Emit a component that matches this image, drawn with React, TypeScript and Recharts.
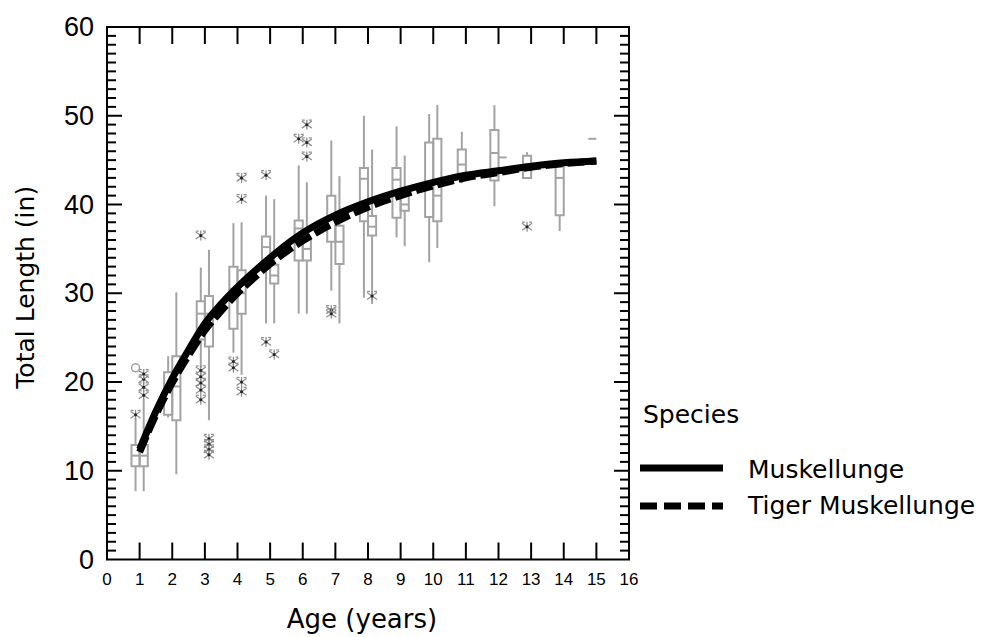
import React from 'react';
import {
  ComposedChart,
  Line,
  Scatter,
  XAxis,
  YAxis,
  ReferenceArea,
  ReferenceLine,
  Legend,
} from 'recharts';

// ---------- data ----------
const xTicks = [0, 1, 2, 3, 4, 5, 6, 7, 8, 9, 10, 11, 12, 13, 14, 15, 16];
const yTicks = Array.from({ length: 61 }, (_, i) => i);

const fitAges = [1, 1.5, 2, 2.5, 3, 3.5, 4, 4.5, 5, 5.5, 6, 7, 8, 9, 10, 11, 12, 13, 14, 15];
const muskFit = [12.4, 16.7, 20.4, 23.6, 26.6, 28.8, 30.7, 32.4, 34.0, 35.5, 36.8, 38.8, 40.3, 41.5, 42.5, 43.3, 43.8, 44.3, 44.7, 44.9];
const tigerFit = [12.1, 16.3, 19.9, 23.0, 25.8, 28.0, 30.0, 31.7, 33.3, 34.7, 35.9, 38.0, 39.7, 41.0, 42.1, 43.0, 43.6, 44.2, 44.6, 44.9];

// left-hand boxes
const muskBoxAges = [1, 2, 3, 4, 5, 6, 7, 8, 9, 10, 11, 12, 13, 14, 15];
const muskLow = [7.7, 16.0, 21.6, 23.3, 26.6, 27.7, 30.3, 29.5, 36.3, 33.5, 42.4, 39.8, 43.0, 37.0, 47.4];
const muskQ1 = [10.5, 16.3, 24.8, 26.0, 33.7, 33.7, 35.8, 38.1, 38.5, 38.6, 43.3, 42.7, 43.0, 38.8, 47.4];
const muskMed = [11.7, 19.0, 27.7, 30.5, 35.2, 37.3, 38.5, 42.9, 42.8, 42.5, 44.5, 45.8, 44.3, 43.0, 47.4];
const muskQ3 = [12.9, 21.1, 29.1, 33.0, 36.4, 38.2, 41.0, 44.1, 44.1, 47.0, 46.2, 48.4, 45.5, 44.5, 47.4];
const muskHigh = [15.9, 22.9, 32.9, 37.9, 41.0, 44.4, 47.2, 50.0, 48.8, 50.2, 48.2, 51.2, 45.9, 44.8, 47.4];

// right-hand boxes
const tigerBoxAges = [1, 2, 3, 4, 5, 6, 7, 8, 9, 10, 12];
const tigerLow = [7.7, 9.6, 15.7, 20.8, 26.6, 27.7, 26.6, 28.8, 35.3, 35.1, 45.3];
const tigerQ1 = [10.5, 15.7, 24.0, 27.7, 31.1, 33.7, 33.3, 36.5, 39.3, 38.1, 45.3];
const tigerMed = [11.7, 19.5, 27.7, 30.0, 32.0, 35.0, 35.8, 37.5, 40.0, 41.0, 45.3];
const tigerQ3 = [12.9, 22.9, 29.7, 32.6, 33.2, 36.2, 37.6, 38.7, 41.1, 47.4, 45.3];
const tigerHigh = [18.0, 30.1, 34.9, 38.0, 40.6, 42.5, 43.2, 46.2, 45.5, 51.2, 45.3];

// outliers (asterisks) and far outside value (circle)
const muskOutAges = [1, 3, 3, 3, 3, 3, 3, 4, 4, 5, 5, 6, 7, 7, 13];
const muskOutVals = [16.3, 36.5, 21.3, 20.6, 19.9, 19.1, 18.0, 22.3, 21.6, 43.3, 24.5, 47.4, 28.1, 27.7, 37.5];
const tigerOutAges = [1, 1, 1, 1, 3, 3, 3, 3, 4, 4, 4, 4, 5, 6, 6, 6, 8];
const tigerOutVals = [18.5, 19.4, 20.3, 20.9, 13.6, 13.0, 12.4, 11.8, 43.0, 40.6, 20.0, 18.9, 23.1, 49.0, 47.0, 45.4, 29.7];
const muskFarAges = [1];
const muskFarVals = [21.6];

const seriesNames = ['Muskellunge', 'Tiger Muskellunge'];

// ---------- layout constants ----------
const W = 981;
const H = 629;
const MARGIN = { top: 19, right: 360, bottom: 47.5, left: 0 };
const Y_AXIS_W = 99;
const X_AXIS_H = 30;
const PLOT_R = W - MARGIN.right;
const PLOT_T = MARGIN.top;

const HALF = 0.125; // half distance between paired boxes (x units)
const BOXW = 0.125; // half width of a box
const GRAY = '#a3a3a3';

const muskFitData = fitAges.map((x, i) => ({ x, y: muskFit[i] }));
const tigerFitData = fitAges.map((x, i) => ({ x, y: tigerFit[i] }));

type Box = { c: number; low: number; q1: number; med: number; q3: number; high: number };
const muskBoxes: Box[] = muskBoxAges.map((a, i) => ({
  c: a - HALF, low: muskLow[i], q1: muskQ1[i], med: muskMed[i], q3: muskQ3[i], high: muskHigh[i],
}));
const tigerBoxes: Box[] = tigerBoxAges.map((a, i) => ({
  c: a + HALF, low: tigerLow[i], q1: tigerQ1[i], med: tigerMed[i], q3: tigerQ3[i], high: tigerHigh[i],
}));
const allBoxes = [...muskBoxes, ...tigerBoxes];

const outData = [
  ...muskOutAges.map((a, i) => ({ x: a - HALF, y: muskOutVals[i] })),
  ...tigerOutAges.map((a, i) => ({ x: a + HALF, y: tigerOutVals[i] })),
];
const farData = muskFarAges.map((a, i) => ({ x: a - HALF, y: muskFarVals[i] }));

const FONT = 'DejaVu Sans, Liberation Sans, Arial, sans-serif';

const YTick = (props: any) => {
  const { x, y, payload } = props;
  const v = payload.value;
  const major = v % 10 === 0;
  const len = major ? 15 : 9;
  const inner = v > 0 && v < 60;
  return (
    <g>
      {inner && (
        <>
          <line x1={x} x2={x + len} y1={y} y2={y} stroke="#000" strokeWidth={2} />
          <line x1={PLOT_R} x2={PLOT_R - len} y1={y} y2={y} stroke="#000" strokeWidth={2} />
        </>
      )}
      {major && (
        <text
          x={x - 13}
          y={y}
          dy={9}
          textAnchor="end"
          fontSize={27}
          fontFamily="Liberation Sans Narrow, Liberation Sans, Arial, sans-serif"
          fill="#000"
        >
          {v}
        </text>
      )}
    </g>
  );
};

const XTick = (props: any) => {
  const { x, y, payload } = props;
  const v = payload.value;
  const inner = v > 0 && v < 16;
  return (
    <g>
      {inner && (
        <>
          <line x1={x} x2={x} y1={y} y2={y - 17} stroke="#000" strokeWidth={2} />
          <line x1={x} x2={x} y1={PLOT_T} y2={PLOT_T + 17} stroke="#000" strokeWidth={2} />
        </>
      )}
      <text x={x} y={y + 25} textAnchor="middle" fontSize={17} fontFamily="Liberation Sans, Arial, sans-serif" fill="#000">
        {v}
      </text>
    </g>
  );
};

const Star = (props: any) => {
  const { cx, cy } = props;
  if (cx == null || cy == null) return null;
  const c = '#8f8f8f';
  return (
    <g>
      <line x1={cx - 5} y1={cy - 3.5} x2={cx + 5} y2={cy + 3.5} stroke={c} strokeWidth={1.3} />
      <line x1={cx + 5} y1={cy - 3.5} x2={cx - 5} y2={cy + 3.5} stroke={c} strokeWidth={1.3} />
      <line x1={cx} y1={cy - 5} x2={cx} y2={cy + 5} stroke={c} strokeWidth={1.3} />
      <line x1={cx - 5} y1={cy - 4.5} x2={cx - 2} y2={cy - 4.5} stroke={c} strokeWidth={1.2} />
      <line x1={cx + 2} y1={cy - 4.5} x2={cx + 5} y2={cy - 4.5} stroke={c} strokeWidth={1.2} />
      <circle cx={cx} cy={cy} r={1.5} fill="#222" />
    </g>
  );
};

const Ring = (props: any) => {
  const { cx, cy } = props;
  if (cx == null || cy == null) return null;
  return <circle cx={cx} cy={cy} r={4} fill="none" stroke={GRAY} strokeWidth={1.5} />;
};

const LegendContent = () => (
  <svg width={359} height={140} style={{ display: 'block' }}>
    <text x={13} y={33} fontSize={25} fontFamily={FONT} fill="#000">Species</text>
    <line x1={10} x2={93} y1={78} y2={78} stroke="#000" strokeWidth={7} />
    <text x={118} y={88} fontSize={25} fontFamily={FONT} fill="#000">{seriesNames[0]}</text>
    <line x1={10} x2={93} y1={116} y2={116} stroke="#000" strokeWidth={7} strokeDasharray="17 7" />
    <text x={118} y={124} fontSize={25} fontFamily={FONT} fill="#000">{seriesNames[1]}</text>
  </svg>
);

export default function App() {
  return (
    <ComposedChart width={W} height={H} margin={MARGIN} style={{ background: '#fff' }}>
      <XAxis
        type="number"
        dataKey="x"
        domain={[0, 16]}
        ticks={xTicks}
        interval={0}
        allowDataOverflow
        height={X_AXIS_H}
        tickSize={0}
        tickMargin={0}
        tickLine={false}
        axisLine={false}
        tick={<XTick />}
        label={{
          value: 'Age (years)',
          content: ({ viewBox }: any) => (
            <text
              x={viewBox.x + viewBox.width / 2 - 6}
              y={620}
              textAnchor="middle"
              fontSize={26}
              fontFamily={FONT}
              fill="#000"
            >
              Age (years)
            </text>
          ),
        }}
      />
      <YAxis
        type="number"
        dataKey="y"
        domain={[0, 60]}
        ticks={yTicks}
        interval={0}
        allowDataOverflow
        width={Y_AXIS_W}
        tickSize={0}
        tickMargin={0}
        tickLine={false}
        axisLine={false}
        tick={<YTick />}
        label={{
          value: 'Total Length (in)',
          content: ({ viewBox }: any) => (
            <text
              x={17}
              y={viewBox.y + viewBox.height / 2 - 6}
              transform={`rotate(-90 17 ${viewBox.y + viewBox.height / 2 - 6})`}
              textAnchor="middle"
              dy={9}
              fontSize={25}
              fontFamily={FONT}
              fill="#000"
            >
              Total Length (in)
            </text>
          ),
        }}
      />
      {/* frame */}
      <ReferenceArea x1={0} x2={16} y1={0} y2={60} fill="none" stroke="#000" strokeWidth={2} ifOverflow="visible" />

      {/* box plots */}
      {allBoxes.map((b, i) => (
        <ReferenceArea
          key={`box${i}`}
          x1={b.c - BOXW}
          x2={b.c + BOXW}
          y1={b.q1}
          y2={b.q3}
          fill="#fff"
          fillOpacity={0}
          stroke={GRAY}
          strokeWidth={2}
          ifOverflow="visible"
        />
      ))}
      {allBoxes.map((b, i) => (
        <ReferenceLine
          key={`wl${i}`}
          segment={[{ x: b.c, y: b.low }, { x: b.c, y: b.q1 }]}
          stroke={GRAY}
          strokeWidth={2}
          ifOverflow="visible"
        />
      ))}
      {allBoxes.map((b, i) => (
        <ReferenceLine
          key={`wh${i}`}
          segment={[{ x: b.c, y: b.q3 }, { x: b.c, y: b.high }]}
          stroke={GRAY}
          strokeWidth={2}
          ifOverflow="visible"
        />
      ))}
      {allBoxes.map((b, i) => (
        <ReferenceLine
          key={`md${i}`}
          segment={[{ x: b.c - BOXW, y: b.med }, { x: b.c + BOXW, y: b.med }]}
          stroke={GRAY}
          strokeWidth={2}
          ifOverflow="visible"
        />
      ))}

      <Scatter data={outData} dataKey="y" shape={<Star />} isAnimationActive={false} />
      <Scatter data={farData} dataKey="y" shape={<Ring />} isAnimationActive={false} />

      <Line
        data={tigerFitData}
        dataKey="y"
        type="monotone"
        stroke="#000"
        strokeWidth={7}
        strokeDasharray="17 5"
        dot={false}
        activeDot={false}
        isAnimationActive={false}
        name={seriesNames[1]}
      />
      <Line
        data={muskFitData}
        dataKey="y"
        type="monotone"
        stroke="#000"
        strokeWidth={7}
        dot={false}
        activeDot={false}
        isAnimationActive={false}
        name={seriesNames[0]}
      />
      <Legend
        layout="horizontal"
        verticalAlign="middle"
        align="center"
        content={<LegendContent />}
        wrapperStyle={{ position: 'absolute', left: 622, top: 382, width: 359, height: 140 }}
      />
    </ComposedChart>
  );
}
